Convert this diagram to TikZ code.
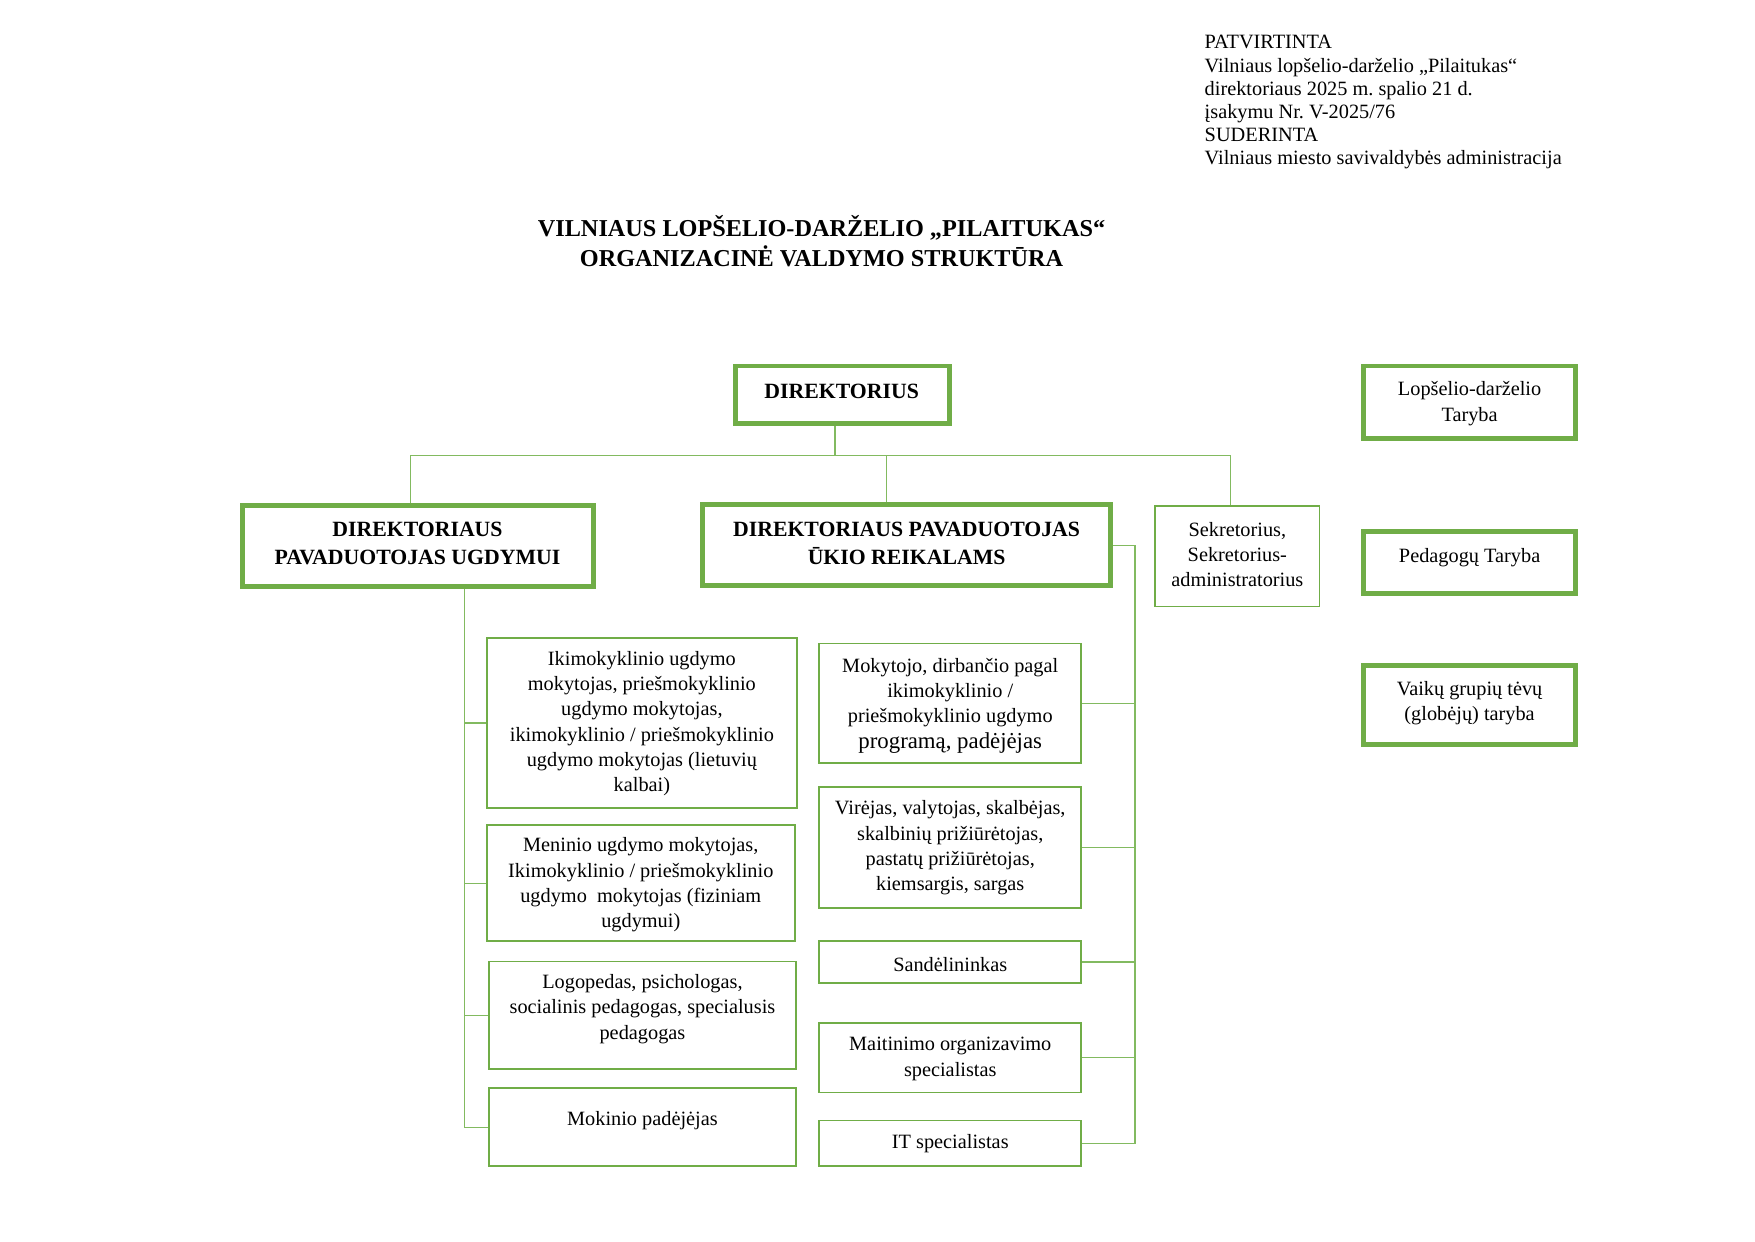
\documentclass[tikz,border=0pt]{standalone}
\usepackage{fontspec}
\setmainfont{Liberation Serif}
\frenchspacing
\usetikzlibrary{fit}
\definecolor{grn}{HTML}{70AD47}
\definecolor{lgrn}{HTML}{82BA60}
\tikzset{
  thickbox/.style={draw=grn, line width=2.4pt, inner sep=0pt},
  thinbox/.style={draw=grn, line width=0.85pt, inner sep=0pt},
  conn/.style={draw=lgrn, line width=0.55pt},
  txt/.style={align=center, inner sep=0pt, font=\fontsize{9.8}{12.2}\selectfont},
  btxt/.style={align=center, inner sep=0pt, font=\bfseries\fontsize{10.5}{13.5}\selectfont},
}
\begin{document}
\begin{tikzpicture}[x=0.54pt, y=-0.54pt]
\useasboundingbox (0,0) rectangle (1568,1109);
% header
\node[anchor=west, align=left, inner sep=0pt, font=\fontsize{9.8}{11.2}\selectfont] (hdr) at (1076,91.5)
 {PATVIRTINTA\\Vilniaus lopšelio-darželio „Pilaitukas“\\direktoriaus 2025 m. spalio 21 d.\\įsakymu Nr. V-2025/76\\SUDERINTA\\Vilniaus miesto savivaldybės administracija};
% title
\node[align=center, inner sep=0pt, font=\bfseries\fontsize{11.7}{14.6}\selectfont] (title) at (734,215.5)
 {VILNIAUS LOPŠELIO-DARŽELIO „PILAITUKAS“\\ORGANIZACINĖ VALDYMO STRUKTŪRA};

% top boxes
\node[thickbox, fit={(657,327) (848,378)}] (dir) {};
\node[btxt] (dir-t) at (752,350) {DIREKTORIUS};
\node[thickbox, fit={(217,452) (530,524)}] (lp) {};
\node[btxt] (lp-t) at (373,485.5) {DIREKTORIAUS\\PAVADUOTOJAS UGDYMUI};
\node[thickbox, fit={(628,451) (992,523)}] (mp) {};
\node[btxt] (mp-t) at (810,485.5) {DIREKTORIAUS PAVADUOTOJAS\\ŪKIO REIKALAMS};
\node[thinbox, line width=0.75pt, fit={(1032,452) (1179,542)}] (sek) {};
\node[txt] (sek-t) at (1105.5,495.5) {Sekretorius,\\Sekretorius-\\administratorius};

% right boxes
\node[thickbox, fit={(1218,327) (1408,392)}] (tar) {};
\node[txt] (tar-t) at (1313,360.5) {Lopšelio-darželio\\Taryba};
\node[thickbox, fit={(1218,475) (1408,530)}] (ped) {};
\node[txt] (ped-t) at (1313,498.5) {Pedagogų Taryba};
\node[thickbox, fit={(1218,595) (1408,665)}] (tev) {};
\node[txt] (tev-t) at (1313,628.5) {Vaikų grupių tėvų\\(globėjų) taryba};

% left column
\node[thinbox, fit={(435,570) (712,722)}] (b1) {};
\node[txt] (b1-t) at (573.5,646.5) {Ikimokyklinio ugdymo\\mokytojas, priešmokyklinio\\ugdymo mokytojas,\\ikimokyklinio / priešmokyklinio\\ugdymo mokytojas (lietuvių\\kalbai)};
\node[thinbox, fit={(435,737) (710,841)}] (b2) {};
\node[txt] (b2-t) at (572.5,790.5) {Meninio ugdymo mokytojas,\\Ikimokyklinio / priešmokyklinio\\ugdymo\ \ mokytojas (fiziniam\\ugdymui)};
\node[thinbox, fit={(437,859) (711,955)}] (b3) {};
\node[txt] (b3-t) at (574,901.5) {Logopedas, psichologas,\\socialinis pedagogas, specialusis\\pedagogas};
\node[thinbox, fit={(437,972) (711,1042)}] (b4) {};
\node[txt] (b4-t) at (574,1001.5) {Mokinio padėjėjas};

% right column
\node[thinbox, fit={(732,575) (966,682)}] (r1) {};
\node[txt] (r1-t) at (849,630.5) {Mokytojo, dirbančio pagal\\ikimokyklinio /\\priešmokyklinio ugdymo\\{\fontsize{11}{12.2}\selectfont programą, padėjėjas}};
\node[thinbox, fit={(732,703) (966,811)}] (r2) {};
\node[txt] (r2-t) at (849,757.5) {Virėjas, valytojas, skalbėjas,\\skalbinių prižiūrėtojas,\\pastatų prižiūrėtojas,\\kiemsargis, sargas};
\node[thinbox, fit={(732,841) (966,878)}] (r3) {};
\node[txt] (r3-t) at (849,862) {Sandėlininkas};
\node[thinbox, fit={(732,914) (966,976)}] (r4) {};
\node[txt] (r4-t) at (849,946) {Maitinimo organizavimo\\specialistas};
\node[thinbox, fit={(732,1001) (966,1042)}] (r5) {};
\node[txt] (r5-t) at (849,1021.5) {IT specialistas};

% connectors
\coordinate (bus) at (746,407);
\coordinate (dL) at (367,407);
\coordinate (dM) at (792,407);
\coordinate (dS) at (1099,407);
\draw[conn] (dir.south -| bus) -- (bus);
\draw[conn] (lp.north -| dL) -- (dL) -- (dS) -- (sek.north -| dS);
\draw[conn] (dM) -- (mp.north -| dM);

\coordinate (tL) at (415,1007);
\draw[conn] (lp.south -| tL) -- (b4.west -| tL) -- (b4.west);
\draw[conn] (b1.west) -- (b1.west -| tL);
\draw[conn] (b2.west) -- (b2.west -| tL);
\draw[conn] (b3.west) -- (b3.west -| tL);

\coordinate (tR) at (1014,0);
\draw[conn] (mp.east) -- (mp.east -| tR) -- (r5.east -| tR) -- (r5.east);
\draw[conn] (r1.east) -- (r1.east -| tR);
\draw[conn] (r2.east) -- (r2.east -| tR);
\draw[conn] (r3.east) -- (r3.east -| tR);
\draw[conn] (r4.east) -- (r4.east -| tR);
\end{tikzpicture}
\end{document}
